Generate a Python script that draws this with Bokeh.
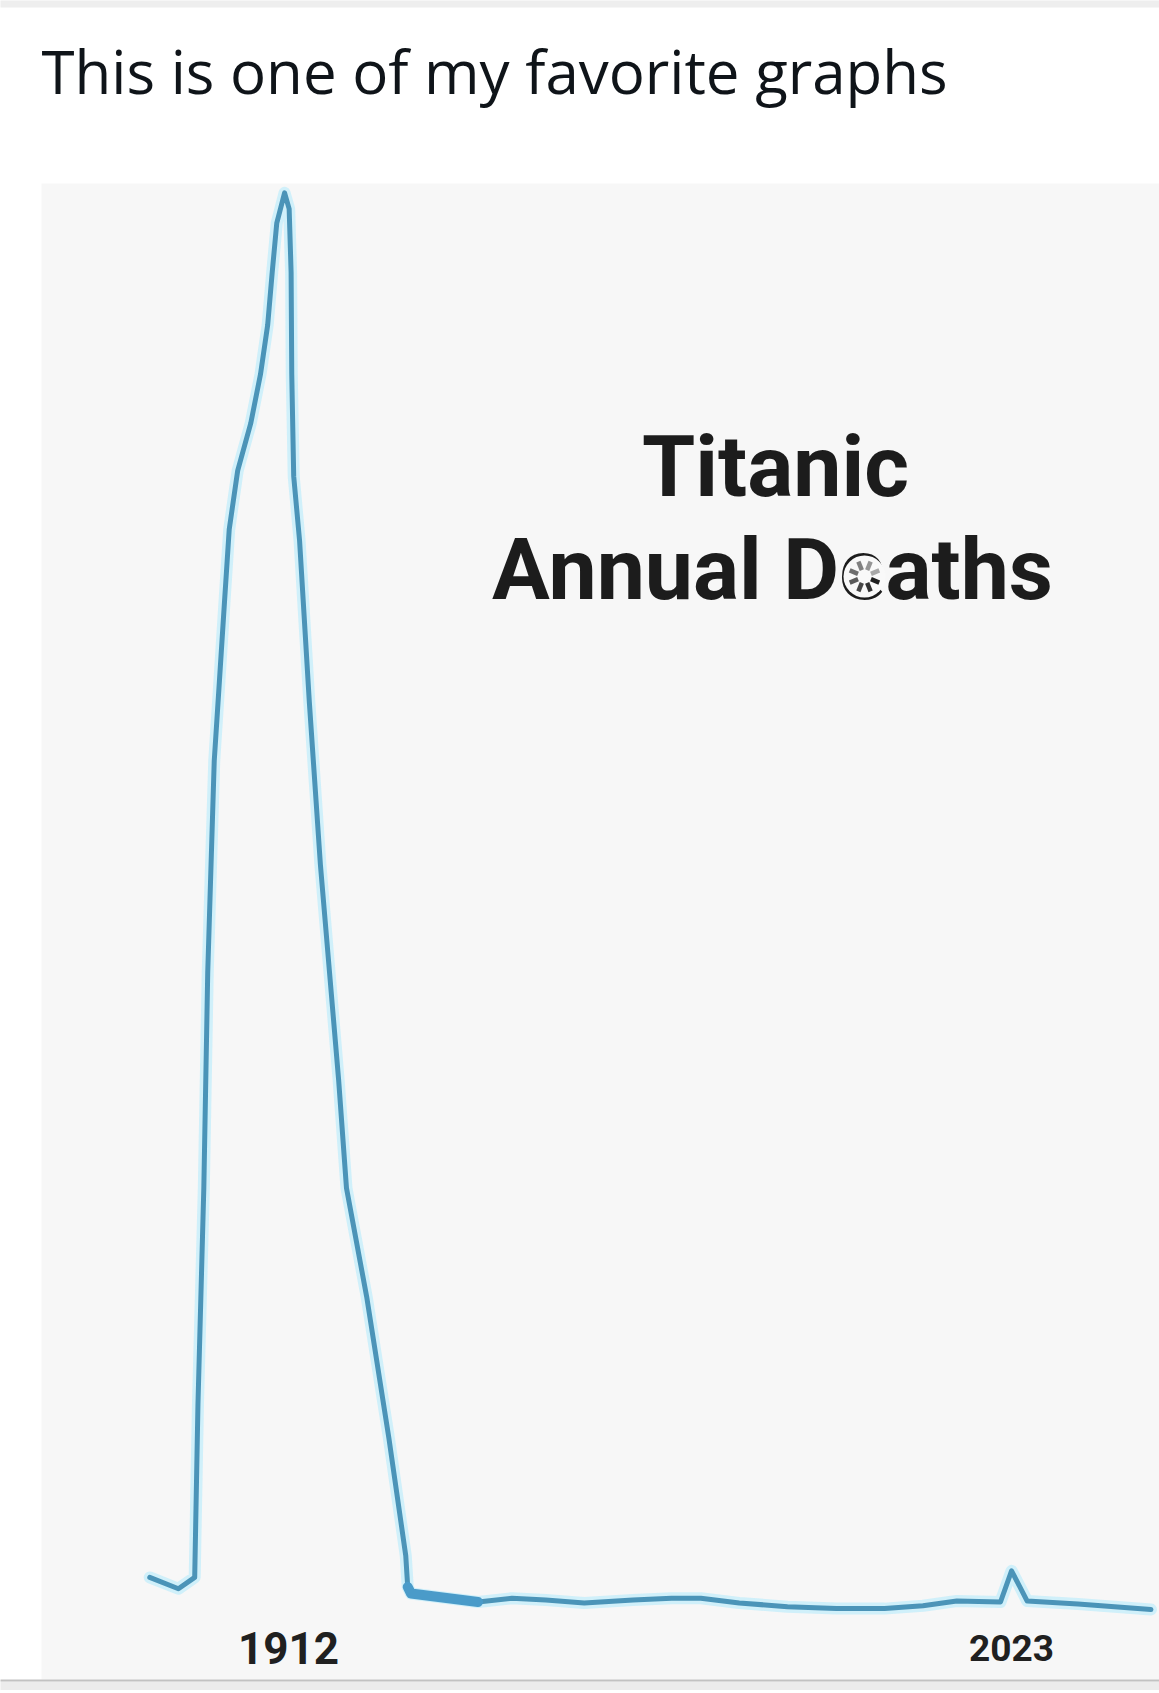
import math
from bokeh.plotting import figure
from bokeh.models import Range1d
from bokeh.core.properties import value
from bokeh.embed import file_html
from bokeh.resources import INLINE

# ---------------- data ----------------
post_text = "This is one of my favorite graphs"
chart_title = ["Titanic", "Annual Deaths"]

years = [1890.7, 1895.1, 1897.6, 1898.1, 1899.0, 1899.6, 1900.6, 1901.4, 1902.2,
         1902.9, 1904.2, 1906.2, 1907.7, 1908.8, 1909.5, 1910.2, 1911.4,
         1912.1, 1912.4, 1912.5, 1912.8, 1913.7, 1915.2, 1916.9, 1919.7, 1920.9,
         1924.0, 1927.4, 1930.0, 1930.3,
         1930.8, 1941.1, 1946.3, 1951.5, 1957.4, 1964.9, 1970.8, 1975.3, 1981.2,
         1988.6, 1996.1, 2003.5, 2009.4, 2014.6, 2021.3, 2023.0, 2025.4, 2033.2,
         2044.4]
deaths = [35, 23, 35, 218, 447, 675, 899, 984, 1070,
          1144, 1206, 1256, 1308, 1360, 1416, 1468, 1500,
          1483, 1416, 1308, 1200, 1132, 961, 789, 561, 447,
          332, 183, 58, 25,
          18, 9, 13, 11, 8, 11, 13, 13, 8,
          4, 2, 2, 5, 10, 9, 42, 10, 7,
          1]

tick_years = [1912, 2023]
tick_labels = ["1912", "2023"]

# ---------------- layout / calibration (pixels) ----------------
W, H = 1159, 1690
X_PX_1912 = 288.0     # canvas x of year 1912
PX_PER_YEAR = 6.514
Y_PX_ZERO = 1610.0    # canvas y of 0 deaths
PX_PER_DEATH = 0.9451


def dx(cx):
    return 1912 + (cx - X_PX_1912) / PX_PER_YEAR


def dy(cy):
    return (Y_PX_ZERO - cy) / PX_PER_DEATH


p = figure(width=W, height=H,
           x_range=Range1d(dx(0), dx(W)), y_range=Range1d(dy(H), dy(0)),
           output_backend="svg", toolbar_location=None,
           x_axis_location=None, y_axis_location=None,
           min_border=0, min_border_left=0, min_border_right=0,
           min_border_top=0, min_border_bottom=0,
           background_fill_color="#ffffff", border_fill_color="#ffffff",
           outline_line_color=None)
for g in p.grid:
    g.visible = False

# top band, chart panel, bottom separator
p.quad(left=[dx(-5)], right=[dx(W + 5)], top=[dy(-5)], bottom=[dy(7)],
       fill_color="#eeeeee", line_color=None)
p.quad(left=[dx(41)], right=[dx(W + 10)], top=[dy(183)], bottom=[dy(1679)],
       fill_color="#f7f7f7", line_color=None)
p.quad(left=[dx(-5)], right=[dx(W + 5)], top=[dy(1681)], bottom=[dy(H + 5)],
       fill_color="#ececec", line_color=None)
p.segment(x0=[dx(-5)], x1=[dx(W + 5)], y0=[dy(1680)], y1=[dy(1680)],
          line_color="#c2c2c2", line_width=2)

# post text
p.text(x=[dx(41)], y=[dy(70)], text=[post_text],
       text_font=value("Open Sans"), text_font_size="60px",
       text_color="#0f1419", text_align="left", text_baseline="alphabetic")

# line (soft glow + core)
p.line(years, deaths, line_color="#c6eefa", line_width=12, line_alpha=0.8,
       line_join="round", line_cap="round")
p.line(years, deaths, line_color="#4b94b8", line_width=5,
       line_join="round", line_cap="round")
p.line(years[29:32], deaths[29:32], line_color="#4a9bc9", line_width=10,
       line_join="round", line_cap="round")

# chart title
p.text(x=[dx(775), dx(772)], y=[dy(466), dy(569)], text=chart_title,
       text_font=value("Roboto"), text_font_style="bold", text_font_size="86px",
       text_color="#1c1c1c", text_align="center", text_baseline="alphabetic")

# loading spinner over the "e"
scx, scy = 864, 576
p.scatter([dx(scx)], [dy(scy)], marker="circle", size=42,
          fill_color="#f9f9f9", line_color=None)
x0s, y0s, x1s, y1s, alphas = [], [], [], [], []
for k in range(8):
    a = k * math.pi / 4 + math.pi / 8
    x0s.append(dx(scx + 7 * math.cos(a)))
    y0s.append(dy(scy + 7 * math.sin(a)))
    x1s.append(dx(scx + 16 * math.cos(a)))
    y1s.append(dy(scy + 16 * math.sin(a)))
    alphas.append(1.0 - 0.09 * k)
p.segment(x0=x0s, y0=y0s, x1=x1s, y1=y1s, line_color="#1e1e1e",
          line_width=4.5, line_alpha=alphas)

# year labels
tick_sizes = ["44px", "37px"]
for yr, lab, fs in zip(tick_years, tick_labels, tick_sizes):
    p.text(x=[yr], y=[dy(1647)], text=[lab],
           text_font=value("Roboto"), text_font_style="bold", text_font_size=fs,
           text_color="#202020", text_align="center", text_baseline="alphabetic")

open("out.html", "w").write(file_html(p, INLINE))
